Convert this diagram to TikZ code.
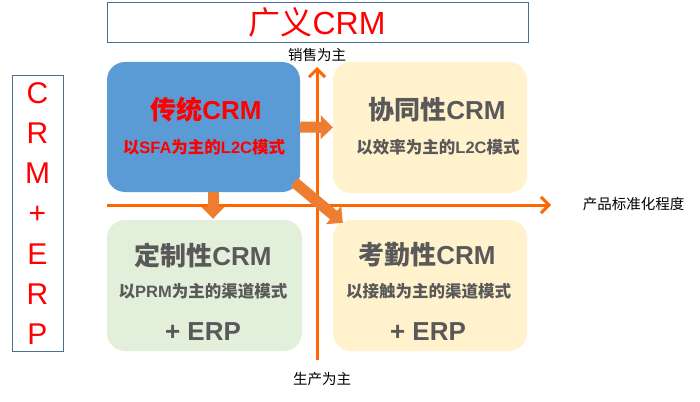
\documentclass[tikz,border=0pt]{standalone}
\usepackage{fontspec}
\setmainfont{Liberation Sans}
\newfontfamily\cjk{Noto Sans CJK SC}
\usetikzlibrary{arrows.meta}
\definecolor{axisor}{HTML}{FF6600}
\definecolor{blockor}{HTML}{ED7D31}
\definecolor{boxblue}{HTML}{5B9BD5}
\definecolor{boxyel}{HTML}{FFF2CC}
\definecolor{boxgreen}{HTML}{E2EFDA}
\definecolor{txtgray}{HTML}{595959}
\definecolor{frameblue}{HTML}{4A6F96}
\newcommand\zh[1]{{\cjk #1}}
\tikzset{
  quad/.style={rectangle, rounded corners=18pt, draw=none, inner sep=0pt},
  frame/.style={rectangle, draw=frameblue, line width=1pt, inner sep=0pt},
  title/.style={inner sep=0pt, font=\bfseries\fontsize{26}{30}\selectfont},
  subtitle/.style={inner sep=0pt, font=\bfseries\fontsize{16.5}{20}\selectfont},
  axislab/.style={inner sep=0pt, font=\fontsize{14.5}{17}\selectfont, text=black},
  axis/.style={draw=axisor, line width=3pt, -{Straight Barb[length=8pt,width=16pt]}},
  blockarrow/.style={draw=blockor, line width=11pt, -{Triangle[length=12pt,width=23pt]}},
}
\begin{document}
\begin{tikzpicture}[x=1pt,y=-1pt]
\useasboundingbox (0,0) rectangle (700,401);
% top title box
\node[frame, minimum width=421pt, minimum height=40pt] (topbox) at (317.5,23) {};
\node[inner sep=0pt, text=red, font=\fontsize{32}{36}\selectfont] (topT) at (317,22) {\zh{广义}CRM};
% side box
\node[frame, minimum width=51pt, minimum height=275pt, align=center, text=red,
      font=\fontsize{30}{40.3}\selectfont] (side) at (37.5,213.5) {C\\R\\M\\+\\E\\R\\P};
% axes
\coordinate (vbot) at (317,360);
\coordinate (vtop) at (317,67);
\coordinate (hleft) at (107,205);
\coordinate (hright) at (551,205);
\draw[axis] (hleft) -- (hright);
\draw[axis] (vbot) -- (vtop);
% quadrant boxes
\node[quad, fill=boxblue, minimum width=193pt, minimum height=130pt] (trad) at (203.5,127) {};
\node[quad, fill=boxyel, minimum width=194pt, minimum height=131pt] (collab) at (430,127.5) {};
\node[quad, fill=boxgreen, minimum width=195pt, minimum height=131pt] (custom) at (204.5,285.5) {};
\node[quad, fill=boxyel, minimum width=194pt, minimum height=131pt] (attend) at (430,285.5) {};
% texts
\node[title, text=red] (tradT) at (206,110) {\zh{传统}CRM};
\node[subtitle, text=red] (tradS) at (204,147) {\zh{以}SFA\zh{为主的}L2C\zh{模式}};
\node[title, text=txtgray] (collabT) at (437,110) {\zh{协同性}CRM};
\node[subtitle, text=txtgray] (collabS) at (438,147) {\zh{以效率为主的}L2C\zh{模式}};
\node[title, text=txtgray] (customT) at (203,255) {\zh{定制性}CRM};
\node[subtitle, text=txtgray] (customS) at (203,291) {\zh{以}PRM\zh{为主的渠道模式}};
\node[title, text=txtgray] (customE) at (203,332) {+ ERP};
\node[title, text=txtgray] (attendT) at (427,255) {\zh{考勤性}CRM};
\node[subtitle, text=txtgray] (attendS) at (428.5,291) {\zh{以接触为主的渠道模式}};
\node[title, text=txtgray] (attendE) at (428,332) {+ ERP};
% axis labels
\node[axislab] (ylab) at (317,55) {\zh{销售为主}};
\node[axislab] (xlab) at (633.5,204.5) {\zh{产品标准化程度}};
\node[axislab] (blab) at (322,379.5) {\zh{生产为主}};
% block arrows
\draw[blockarrow] (trad.east) -- (collab.west);
\draw[blockarrow] ([xshift=9.5pt]trad.south) -- ([xshift=9.5pt,yshift=1pt]trad.south |- custom.north);
\draw[blockarrow] ([shift={(-6,-10)}]trad.south east) -- ([shift={(10,3)}]attend.north west);
\end{tikzpicture}
\end{document}
